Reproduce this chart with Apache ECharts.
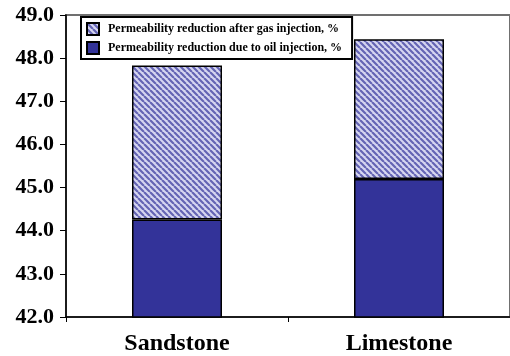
<!DOCTYPE html>
<html>
<head>
<meta charset="utf-8">
<script src="https://cdn.jsdelivr.net/npm/echarts@6/dist/echarts.min.js"></script>
<style>
  html, body { margin: 0; padding: 0; background: #fff; }
  #chart { width: 510px; height: 356px; }
</style>
</head>
<body>
<div id="chart"></div>
<script>
// Rock types along the category axis
const categories = ['Sandstone', 'Limestone'];
// Permeability reduction caused by oil injection (%), base of each column
const oilReduction = [44.26, 45.20];
// Additional permeability reduction after gas injection (%), stacked on top
const gasReduction = [3.57, 3.24];
// Value-axis tick labels
const yTicks = [42, 43, 44, 45, 46, 47, 48, 49];

const seriesNames = [
  'Permeability reduction after gas injection, %',
  'Permeability reduction due to oil injection, %'
];

// Diagonal hatch fill for the gas-injection segment
function hatchPattern() {
  const size = 6;
  const c = document.createElement('canvas');
  c.width = size; c.height = size;
  const g = c.getContext('2d');
  g.fillStyle = '#d6d6f0';
  g.fillRect(0, 0, size, size);
  g.strokeStyle = '#6464b4';
  g.lineWidth = 2.2;
  g.beginPath();
  for (let k = -1; k <= 1; k++) {
    g.moveTo(k * size, 0);
    g.lineTo(k * size + size, size);
  }
  g.stroke();
  return c;
}

const serif = '"Liberation Serif", "Times New Roman", serif';
const chart = echarts.init(document.getElementById('chart'), null, { renderer: 'canvas' });

chart.setOption({
  animation: false,
  grid: {
    left: 66, right: -8, top: 15, bottom: 39,
    show: true, borderColor: '#707070', borderWidth: 2, backgroundColor: 'transparent'
  },
  legend: {
    orient: 'vertical',
    left: 81, top: 17,
    padding: [5, 10, 4, 5],
    icon: 'rect',
    itemWidth: 12, itemHeight: 12, itemGap: 5,
    borderColor: '#000', borderWidth: 2,
    backgroundColor: '#fff',
    data: seriesNames,
    textStyle: {
      fontFamily: serif, fontWeight: 'bold', fontSize: 12, color: '#000',
      padding: [0, 0, 0, 4]
    }
  },
  xAxis: {
    type: 'category',
    data: categories,
    axisLine: { lineStyle: { color: '#000', width: 1.5 } },
    axisTick: { show: true, length: 5, lineStyle: { color: '#000' } },
    axisLabel: { margin: 15, fontFamily: serif, fontWeight: 'bold', fontSize: 24, color: '#000' }
  },
  yAxis: {
    type: 'value',
    min: yTicks[0], max: yTicks[yTicks.length - 1], interval: 1,
    splitLine: { show: false },
    axisLine: { show: true, lineStyle: { color: '#000', width: 1.5 } },
    axisTick: { show: true, length: 6, lineStyle: { color: '#000' } },
    axisLabel: {
      margin: 12, fontFamily: serif, fontWeight: 'bold', fontSize: 22, color: '#000',
      formatter: v => v.toFixed(1)
    }
  },
  series: [
    {
      name: seriesNames[1],
      type: 'bar', stack: 'total', barWidth: 90,
      data: oilReduction,
      itemStyle: { color: '#333399', borderColor: '#000', borderWidth: 1.5 }
    },
    {
      name: seriesNames[0],
      type: 'bar', stack: 'total', barWidth: 90,
      data: gasReduction,
      itemStyle: {
        color: { image: hatchPattern(), repeat: 'repeat' },
        borderColor: '#000', borderWidth: 1.5
      }
    }
  ]
});
</script>
</body>
</html>
